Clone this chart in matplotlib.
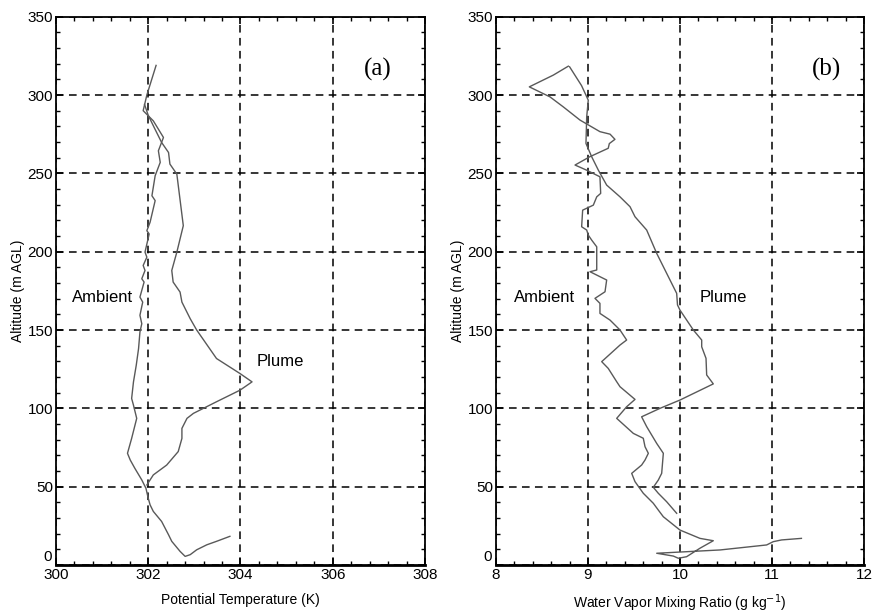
import matplotlib
matplotlib.use("Agg")
import matplotlib.pyplot as plt
from matplotlib.ticker import MultipleLocator, FuncFormatter

plt.rcParams["font.family"] = ["Liberation Sans", "DejaVu Sans"]

# (a) potential temperature profiles (K, m AGL)
amb_theta = [303.77, 303.48, 303.27, 303.05, 302.91, 302.80, 302.69, 302.51, 302.44,
             302.29, 302.11, 302.04, 302.00, 301.95, 301.86, 301.71, 301.61, 301.55,
             301.64, 301.75, 301.68, 301.64, 301.68, 301.74, 301.79, 301.82, 301.86,
             301.82, 301.88, 301.82, 301.91, 301.86, 301.93, 301.89, 301.97,
             301.93, 302.02, 301.97, 302.04, 302.15, 302.08, 302.15, 302.26, 302.22,
             302.33, 302.11, 301.89, 301.97, 302.17]
amb_theta_z = [18.3, 15.1, 12.9, 9.7, 6.6, 5.5, 8.7, 15.1, 19.3,
               27.8, 34.2, 38.4, 42.6, 49.0, 54.3, 61.7, 67.0, 71.3,
               80.8, 93.6, 102.0, 106.3, 116.9, 127.5, 138.1, 148.7, 154.0,
               159.4, 167.8, 171.0, 180.6, 182.7, 188.0, 191.2, 196.5,
               199.7, 211.3, 213.4, 218.8, 232.6, 235.7, 248.5, 257.0, 264.4,
               272.9, 283.5, 290.0, 300.0, 318.9]

plume_theta = [301.97, 302.11, 302.40, 302.65, 302.73, 302.73, 302.84, 302.98, 303.48,
               303.99, 304.25, 303.99, 303.48, 303.05, 302.91, 302.73, 302.69, 302.54,
               302.51, 302.62, 302.76, 302.62, 302.47, 302.44, 302.29, 302.15, 302.00,
               301.92]
plume_theta_z = [51.1, 57.5, 63.8, 72.4, 80.8, 87.2, 93.6, 96.8, 104.2,
                 111.6, 116.9, 122.2, 131.8, 150.0, 157.2, 167.8, 174.2, 180.6,
                 188.0, 199.7, 216.6, 249.5, 255.9, 263.3, 269.7, 278.0, 287.0,
                 294.0]

# (b) water vapour mixing ratio profiles (g/kg, m AGL)
amb_q = [11.32, 11.105, 11.014, 10.942, 10.435, 9.747, 9.928, 9.982, 10.072, 10.217,
         10.362, 10.217, 10.0, 9.819, 9.764, 9.71, 9.601, 9.511, 9.475, 9.583,
         9.62, 9.656, 9.62, 9.601, 9.493, 9.312, 9.42, 9.511, 9.348, 9.312,
         9.22, 9.149, 9.348, 9.42, 9.348, 9.24, 9.13, 9.13, 9.076, 9.185,
         9.203, 9.022, 9.095, 9.095, 9.04, 9.003, 8.986, 8.931, 8.942, 9.058,
         9.095, 9.138, 9.13, 8.986, 8.859, 9.02, 9.22, 9.232, 9.293, 9.24,
         9.13, 8.913, 8.732, 8.587, 8.362, 8.623, 8.786]
amb_q_z = [17.0, 16.0, 14.9, 12.8, 9.6, 7.5, 5.7, 4.3, 5.3, 10.7,
           15.5, 17.0, 22.3, 30.8, 35.1, 39.4, 45.8, 53.2, 58.5, 63.8,
           67.0, 71.3, 75.5, 80.9, 84.0, 93.6, 101.0, 105.7, 113.8, 117.0,
           125.5, 129.8, 140.4, 143.6, 150.0, 156.3, 160.6, 167.0, 170.2, 174.4,
           181.9, 187.2, 188.3, 203.1, 207.4, 210.6, 213.8, 215.9, 226.5, 229.7,
           235.0, 237.2, 247.8, 252.0, 255.3, 260.6, 266.0, 269.0, 271.7, 275.0,
           276.6, 284.0, 292.4, 298.8, 305.2, 312.7, 318.4]

plume_q = [9.964, 9.855, 9.764, 9.71, 9.764, 9.801, 9.819, 9.747, 9.638, 9.583,
           9.783, 10.0, 10.362, 10.29, 10.283, 10.236, 10.236, 10.145, 10.0, 9.973,
           9.964, 9.855, 9.747, 9.638, 9.511, 9.457, 9.348, 9.203, 9.112, 9.04,
           8.978, 8.986, 9.003, 8.93, 8.80]
plume_q_z = [33.0, 40.4, 45.8, 49.6, 54.2, 58.5, 71.3, 77.6, 88.3, 94.6,
             100.0, 105.3, 115.6, 121.3, 131.9, 139.3, 143.6, 150.0, 162.7, 166.0,
             173.4, 186.2, 198.9, 213.8, 222.3, 228.7, 235.0, 242.5, 252.1, 260.6,
             269.1, 286.1, 296.7, 306.0, 318.0]

line_col = "#595959"
grid_kw = dict(color="black", linestyle=(0, (5, 3.5)), linewidth=1.1)


def style_axis(ax, xmin, xmax, xmaj, xmin_step):
    ax.set_xlim(xmin, xmax)
    ax.set_ylim(0, 350)
    ax.xaxis.set_major_locator(MultipleLocator(xmaj))
    ax.xaxis.set_minor_locator(MultipleLocator(xmin_step))
    ax.yaxis.set_major_locator(MultipleLocator(50))
    ax.yaxis.set_minor_locator(MultipleLocator(10))
    # the "0" is drawn separately, a bit higher, like the original
    ax.yaxis.set_major_formatter(FuncFormatter(lambda v, p: "" if v == 0 else "%d" % v))
    ax.annotate("0", xy=(0, 0), xycoords=("axes fraction", "data"),
                xytext=(-3, 6), textcoords="offset points",
                ha="right", va="center", fontsize=11)
    ax.tick_params(which="both", direction="in", top=True, right=True,
                   labelsize=11, pad=2)
    ax.tick_params(which="major", length=5, width=1.2)
    ax.tick_params(which="minor", length=3, width=1.0)
    ax.grid(True, which="major", **grid_kw)
    for s in ax.spines.values():
        s.set_linewidth(1.3)
    ax.spines["bottom"].set_linewidth(2.0)
    ax.set_ylabel("Altitude (m AGL)", fontsize=10, labelpad=2)


fig = plt.figure(figsize=(8.72, 6.13), dpi=100)
ax1 = fig.add_axes([0.0642, 0.0783, 0.4232, 0.8945])
ax2 = fig.add_axes([0.5688, 0.0783, 0.4220, 0.8945])

# panel (a)
ax1.plot(amb_theta, amb_theta_z, color=line_col, lw=1.0)
ax1.plot(plume_theta, plume_theta_z, color=line_col, lw=1.0)
style_axis(ax1, 300, 308, 2, 0.4)
ax1.set_xlabel("Potential Temperature (K)", fontsize=10, labelpad=8)
ax1.text(306.98, 316, "(a)", family="Liberation Serif", fontsize=18,
         ha="center", va="center")
ax1.text(301.0, 171, "Ambient", fontsize=12, ha="center", va="center")
ax1.text(304.86, 130, "Plume", fontsize=12, ha="center", va="center")

# panel (b)
ax2.plot(amb_q, amb_q_z, color=line_col, lw=1.0)
ax2.plot(plume_q, plume_q_z, color=line_col, lw=1.0)
style_axis(ax2, 8, 12, 1, 0.2)
ax2.set_xlabel("Water Vapor Mixing Ratio (g kg$^{-1}$)", fontsize=10, labelpad=8)
ax2.text(11.59, 316, "(b)", family="Liberation Serif", fontsize=18,
         ha="center", va="center")
ax2.text(8.53, 171, "Ambient", fontsize=12, ha="center", va="center")
ax2.text(10.47, 171, "Plume", fontsize=12, ha="center", va="center")

fig.savefig("out.png", dpi=100)
